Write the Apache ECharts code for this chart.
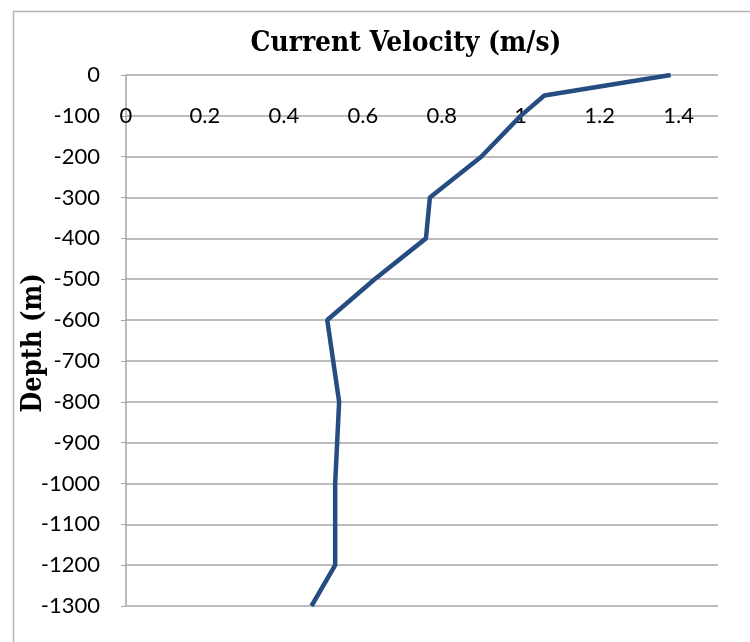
<!DOCTYPE html>
<html>
<head>
<meta charset="utf-8">
<script src="https://cdn.jsdelivr.net/npm/echarts@6/dist/echarts.min.js"></script>
<style>
html,body{margin:0;padding:0;background:#fff;}
#chart{width:750px;height:642px;}
</style>
</head>
<body>
<div id="chart"></div>
<script>
var velocity = [1.38, 1.06, 1.0, 0.9, 0.77, 0.76, 0.63, 0.51, 0.54, 0.53, 0.53, 0.47];
var depth = [0, -50, -100, -200, -300, -400, -500, -600, -800, -1000, -1200, -1300];
var titleText = 'Current Velocity (m/s)';
var yName = 'Depth (m)';

var chart = echarts.init(document.getElementById('chart'));
var pts = velocity.map(function(v, i){ return [v, depth[i]]; });
var labelFont = 'Lato, "Open Sans", sans-serif';
var headFont = 'bold 27px "DejaVu Serif Condensed", "DejaVu Serif", serif';
chart.setOption({
  animation: false,
  backgroundColor: '#fff',
  graphic: [{
    type: 'rect', left: 11, top: 9, shape: {width: 760, height: 700},
    style: {fill: 'none', stroke: '#b5b5b5', lineWidth: 1.5}, silent: true
  }, {
    type: 'text', x: 406, y: 44, scaleX: 1.03,
    style: {text: titleText, font: headFont, fill: '#000', textAlign: 'center', textVerticalAlign: 'middle'},
    silent: true
  }, {
    type: 'text', x: 34, y: 343, rotation: Math.PI/2,
    style: {text: yName, font: headFont, fill: '#000', textAlign: 'center', textVerticalAlign: 'middle'},
    silent: true
  }],
  grid: {left: 126, top: 75, right: 32, bottom: 36},
  xAxis: {
    type: 'value', position: 'top', min: 0, max: 1.5, interval: 0.2,
    axisLine: {show: false}, axisTick: {show: false}, splitLine: {show: false},
    axisLabel: {inside: true, margin: 30, showMaxLabel: false, fontSize: 22, color: '#000', fontFamily: labelFont,
      formatter: function(v){ return String(Math.round(v*10)/10); }}
  },
  yAxis: {
    type: 'value', min: -1300, max: 0, interval: 100,
    axisLine: {show: true, lineStyle: {color: '#a6a6a6', width: 1.5}},
    axisTick: {show: true, length: 5, lineStyle: {color: '#a6a6a6'}},
    splitLine: {show: true, lineStyle: {color: '#a6a6a6', width: 1.5}},
    axisLabel: {fontSize: 22, color: '#000', margin: 26, fontFamily: labelFont,
      formatter: function(v){ return String(v); }}
  },
  series: [{
    type: 'line', data: pts, showSymbol: false, symbol: 'none',
    lineStyle: {color: '#254d82', width: 4.5}
  }]
});
</script>
</body>
</html>
